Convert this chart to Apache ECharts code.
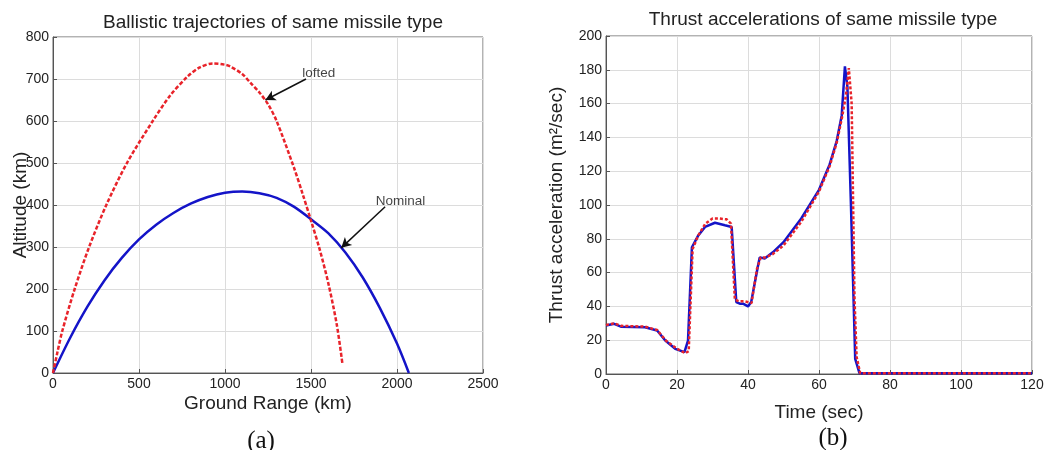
<!DOCTYPE html>
<html>
<head>
<meta charset="utf-8">
<script src="https://cdn.jsdelivr.net/npm/echarts@6/dist/echarts.min.js"></script>
<style>
  html, body { margin: 0; padding: 0; background: #fff; }
  #chart { width: 1047px; height: 450px; }
</style>
</head>
<body>
<div id="chart"></div>
<script>
// (a) ballistic trajectories, ground range (km) vs altitude (km)
const nominalRange = [0, 100, 200, 300, 400, 500, 600, 700, 800, 900, 1000, 1100, 1200, 1300, 1400, 1500, 1600, 1700, 1800, 1900, 2000, 2069];
const nominalAlt   = [0, 84, 158, 221, 274, 318, 353, 381, 403, 419, 429, 432, 428, 417, 396, 366, 333, 287, 228, 155, 70, 0];

const loftedRange = [0, 25, 54, 126, 210, 310, 430, 580, 680, 780, 850, 930, 1000, 1030, 1100, 1150, 1200, 1250, 1300, 1400, 1450, 1500, 1550, 1600, 1650, 1682];
const loftedAlt   = [0, 48, 100, 200, 300, 400, 500, 600, 660, 705, 727, 737, 734, 730, 712, 690, 668, 640, 600, 490, 428, 363, 295, 215, 115, 24];

// (b) thrust accelerations, time (sec) vs acceleration
const blueTime = [0, 2.3, 4.2, 11, 14.4, 16.7, 19.5, 22.1, 23.1, 24.2, 26, 27.9, 30.7, 33.5, 35.4, 36.7, 37.7, 38.6, 40, 40.9, 42.9, 43.3, 44.7, 47, 50, 55, 60, 63, 65, 66.4, 67.3, 68, 69, 70.2, 71.4, 80, 100, 120];
const blueAcc  = [28.7, 29.7, 28, 27.7, 25.7, 19.8, 14.9, 12.9, 19.8, 75, 82, 87, 89.5, 88, 87, 42.6, 41.6, 41.6, 40, 42.6, 65, 69, 68.3, 72, 78, 92, 109, 124, 138, 153, 182, 170, 100, 9, 0.5, 0.5, 0.5, 0.5];

const redTime = [0, 2.3, 4.2, 11, 14.4, 17, 20, 22.3, 23.3, 24.4, 26, 28, 30, 32, 34, 35.2, 36.3, 37.5, 39, 41, 42.5, 43.6, 45, 47, 50, 55, 60, 63, 65, 66.5, 67.6, 68.4, 69.2, 70, 70.6, 71.6, 80, 100, 120];
const redAcc  = [29, 30, 28.5, 28, 26, 19.5, 15, 12.3, 13.5, 74, 82, 89, 92, 92, 91.5, 89, 44, 43, 43, 42, 62, 69, 69, 71, 76, 90, 108, 123, 137, 152, 165, 181, 160, 45, 10, 0.5, 0.5, 0.5, 0.5];

// callouts on (a), in data units
const calloutNames = ['lofted', 'Nominal'];
const calloutText  = [[1545, 714], [2020, 410]];
const calloutTail  = [[1471, 700], [1931, 396]];
const calloutTip   = [[1235, 650], [1676, 298]];

const pairs = (xs, ys) => xs.map((x, i) => [x, ys[i]]);

const BLUE = '#1414c8';
const RED = '#e8232a';
const FONT = 'Liberation Sans';
const axisLabel = { color: '#222', fontSize: 14, fontFamily: FONT, margin: 4, formatter: v => String(v) };
const splitLine = { show: true, lineStyle: { color: '#dcdcdc', width: 1 } };
const axisTick = { show: true, inside: true, length: 4, lineStyle: { color: '#555' } };
const axisLine = { show: true, onZero: false, lineStyle: { color: '#555' } };
const nameStyle = { color: '#222', fontSize: 19, fontFamily: FONT };
const titleStyle = { fontSize: 19, fontWeight: 'normal', color: '#222', fontFamily: FONT };

const chart = echarts.init(document.getElementById('chart'), null, { renderer: 'canvas' });

chart.setOption({
  backgroundColor: '#fff',
  animation: false,
  title: [
    { text: 'Ballistic trajectories of same missile type', left: 268, top: 8, textAlign: 'center', textStyle: titleStyle },
    { text: 'Thrust accelerations of same missile type', left: 818, top: 5, textAlign: 'center', textStyle: titleStyle }
  ],
  grid: [
    { left: 53, top: 37, width: 430, height: 336, show: true, borderColor: '#666', borderWidth: 1 },
    { left: 606, top: 36, width: 426, height: 338, show: true, borderColor: '#666', borderWidth: 1 }
  ],
  xAxis: [
    { type: 'value', gridIndex: 0, min: 0, max: 2500, interval: 500,
      name: 'Ground Range (km)', nameLocation: 'middle', nameGap: 21, nameMoveOverlap: false, nameTextStyle: nameStyle,
      axisLabel, splitLine, axisTick, axisLine },
    { type: 'value', gridIndex: 1, min: 0, max: 120, interval: 20,
      name: 'Time (sec)', nameLocation: 'middle', nameGap: 29, nameMoveOverlap: false, nameTextStyle: nameStyle,
      axisLabel, splitLine, axisTick, axisLine }
  ],
  yAxis: [
    { type: 'value', gridIndex: 0, min: 0, max: 800, interval: 100,
      name: 'Altitude (km)', nameLocation: 'middle', nameGap: 23, nameRotate: 90, nameMoveOverlap: false,
      nameTextStyle: nameStyle, axisLabel, splitLine, axisTick, axisLine },
    { type: 'value', gridIndex: 1, min: 0, max: 200, interval: 20,
      name: 'Thrust acceleration (m²/sec)', nameLocation: 'middle', nameGap: 40, nameRotate: 90, nameMoveOverlap: false,
      nameTextStyle: nameStyle, axisLabel, splitLine, axisTick, axisLine }
  ],
  series: [
    { name: 'Nominal', type: 'line', xAxisIndex: 0, yAxisIndex: 0, smooth: 0.3, showSymbol: false,
      data: pairs(nominalRange, nominalAlt), lineStyle: { color: BLUE, width: 2.5 } },
    { name: 'Lofted', type: 'line', xAxisIndex: 0, yAxisIndex: 0, smooth: 0.3, showSymbol: false,
      data: pairs(loftedRange, loftedAlt), lineStyle: { color: RED, width: 2.5, type: [4, 2] } },
    { name: 'callouts', type: 'scatter', xAxisIndex: 0, yAxisIndex: 0, symbolSize: 0,
      data: calloutText.map((p, i) => ({ value: p, name: calloutNames[i] })),
      label: { show: true, position: 'inside', formatter: '{b}', color: '#111', fontSize: 13.5, fontFamily: FONT },
      markLine: {
        silent: true, symbol: ['none', 'arrow'], symbolSize: [8, 10],
        lineStyle: { color: '#111', width: 1.5, type: 'solid' }, label: { show: false },
        data: calloutTail.map((p, i) => [{ coord: p }, { coord: calloutTip[i] }])
      } },
    { name: 'Blue', type: 'line', xAxisIndex: 1, yAxisIndex: 1, showSymbol: false,
      data: pairs(blueTime, blueAcc), lineStyle: { color: BLUE, width: 2.5 } },
    { name: 'Red', type: 'line', xAxisIndex: 1, yAxisIndex: 1, showSymbol: false,
      data: pairs(redTime, redAcc), lineStyle: { color: RED, width: 2.5, type: [3, 2] } }
  ],
  graphic: [
    { type: 'text', x: 261, y: 441, style: { text: '(a)', fontSize: 25, fontFamily: 'Liberation Serif', fill: '#111', align: 'center', verticalAlign: 'middle' } },
    { type: 'text', x: 833, y: 438, style: { text: '(b)', fontSize: 25, fontFamily: 'Liberation Serif', fill: '#111', align: 'center', verticalAlign: 'middle' } }
  ]
});
</script>
</body>
</html>
